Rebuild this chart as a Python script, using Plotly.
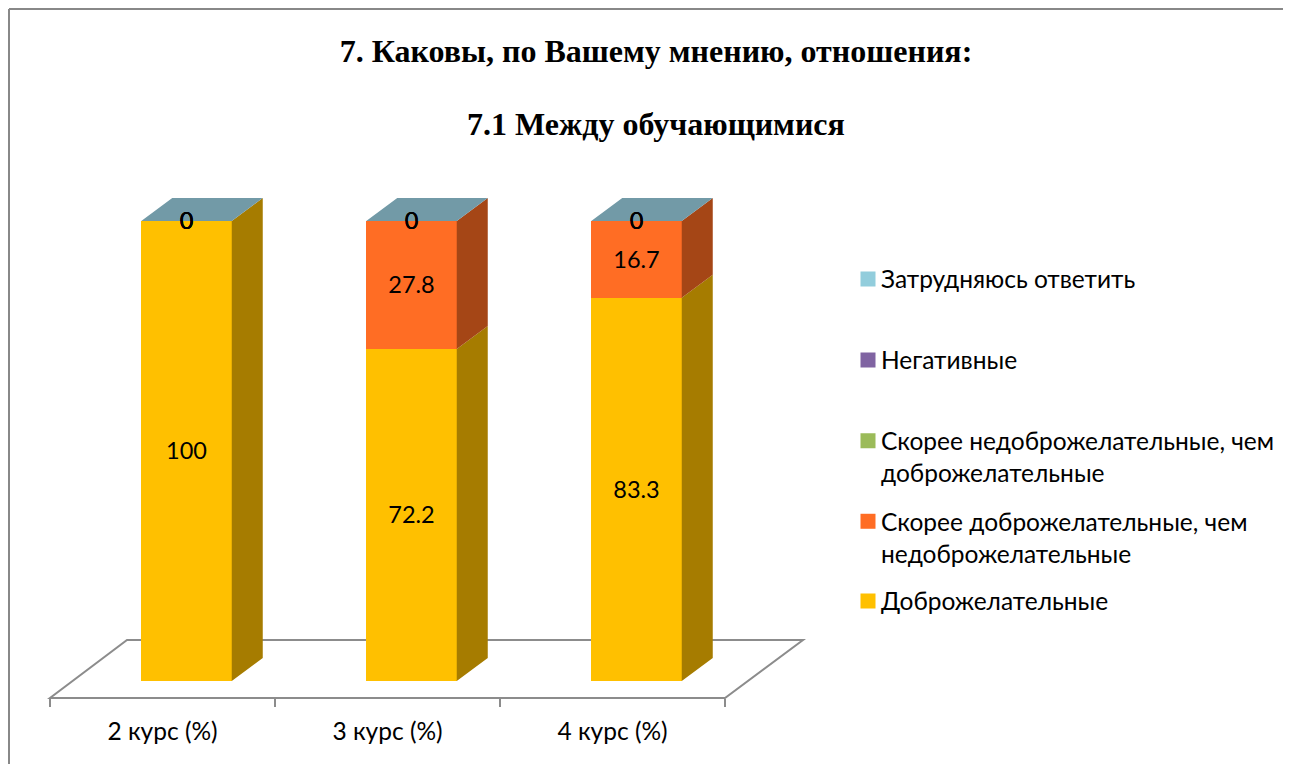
import plotly.graph_objects as go

# ---- data ----
categories = ["2 курс (%)", "3 курс (%)", "4 курс (%)"]
series_names = [
    "Доброжелательные",
    "Скорее доброжелательные, чем<br>недоброжелательные",
    "Скорее недоброжелательные, чем<br>доброжелательные",
    "Негативные",
    "Затрудняюсь ответить",
]
friendly = [100, 72.2, 83.3]
rather_friendly = [0, 27.8, 16.7]
rather_unfriendly = [0, 0, 0]
negative = [0, 0, 0]
hard_to_say = [0, 0, 0]
series_values = [friendly, rather_friendly, rather_unfriendly, negative, hard_to_say]

front_colors = ["#FFC000", "#FF6D24", "#9BBB59", "#8064A2", "#92CDDC"]
side_colors = ["#A67C00", "#A54616", "#657A3A", "#534169", "#5F858F"]
top_color = "#729AA7"
legend_colors = front_colors

# ---- layout constants (page pixels) ----
PAGE_OFFSET = 8
W, H = 1291 - PAGE_OFFSET, 764 - PAGE_OFFSET
PLOT_L, PLOT_R, PLOT_T, PLOT_B = 40, 812, 190, 698
X_UNIT = 225.0      # px per category
X_ZERO = 162.5      # px of first category centre on the axis
Y_UNIT = 4.6        # px per percent
Y_ZERO = 681.0      # px of value 0 at the bar front
BAR_SHIFT = 24 / X_UNIT
BAR_WIDTH = 90.5 / X_UNIT
DEPTH_X = 31 / X_UNIT
DEPTH_Y = 23 / Y_UNIT
LABEL_NUDGE = 2.5 / Y_UNIT
TEXT_FONT = "Lato"


def xd(px):
    return (px - X_ZERO) / X_UNIT


def yd(py):
    return (Y_ZERO - py) / Y_UNIT


def xp(px):
    return (px - PLOT_L) / (PLOT_R - PLOT_L)


def yp(py):
    return (PLOT_B - py) / (PLOT_B - PLOT_T)


fig = go.Figure()

# stacked bar fronts
for name, vals, col in zip(series_names, series_values, front_colors):
    fig.add_trace(go.Bar(
        x=[i + BAR_SHIFT for i in range(len(categories))], y=vals, width=BAR_WIDTH,
        name=name.replace("<br>", " "), marker=dict(color=col, line=dict(width=0)),
        showlegend=False, hoverinfo="y",
    ))

# side faces
bottoms = [0, 0, 0]
for vals, col in zip(series_values, side_colors):
    xs, ys = [], []
    for i, v in enumerate(vals):
        if v > 0:
            r = i + BAR_SHIFT + BAR_WIDTH / 2
            b = bottoms[i]
            xs += [r, r + DEPTH_X, r + DEPTH_X, r, r, None]
            ys += [b, b + DEPTH_Y, b + v + DEPTH_Y, b + v, b, None]
    if xs:
        fig.add_trace(go.Scatter(x=xs, y=ys, mode="lines", fill="toself", fillcolor=col,
                                 line=dict(width=0), showlegend=False, hoverinfo="skip"))
    bottoms = [b + v for b, v in zip(bottoms, vals)]

# top faces
xs, ys = [], []
for i, t in enumerate(bottoms):
    l = i + BAR_SHIFT - BAR_WIDTH / 2
    r = i + BAR_SHIFT + BAR_WIDTH / 2
    xs += [l, r, r + DEPTH_X, l + DEPTH_X, l, None]
    ys += [t, t, t + DEPTH_Y, t + DEPTH_Y, t, None]
fig.add_trace(go.Scatter(x=xs, y=ys, mode="lines", fill="toself", fillcolor=top_color,
                         line=dict(width=0), showlegend=False, hoverinfo="skip"))

# data labels
lx, ly, lt = [], [], []
running = [0, 0, 0]
for vals in series_values:
    for i, v in enumerate(vals):
        lx.append(i + BAR_SHIFT)
        ly.append(running[i] + v / 2 - LABEL_NUDGE)
        lt.append(f"{v:g}")
    running = [a + b for a, b in zip(running, vals)]
fig.add_trace(go.Scatter(x=lx, y=ly, text=lt, mode="text", textposition="middle center",
                         textfont=dict(family=TEXT_FONT, size=23.5, color="#000000"),
                         showlegend=False, hoverinfo="skip"))

# legend entries, each in its own legend so the rows sit where the reference has them
legend_rows = [601, 521.5, 441, 360, 279]
legend_names = [
    "Доброжелательные",
    " <br>Скорее доброжелательные, чем<br>недоброжелательные",
    " <br>Скорее недоброжелательные, чем<br>доброжелательные",
    "Негативные",
    "Затрудняюсь ответить",
]
legends = {}
for k, (nm, col, row) in enumerate(zip(legend_names, legend_colors, legend_rows)):
    key = "legend" if k == 0 else f"legend{k + 1}"
    fig.add_trace(go.Scatter(x=[None], y=[None], mode="markers", name=nm,
                             marker=dict(symbol="square", size=15, color=col,
                                         angle=90, standoff=7),
                             showlegend=True, legend=key))
    legends[key] = dict(
        xref="container", yref="container",
        x=(841 - PAGE_OFFSET) / W, y=1 - (row - PAGE_OFFSET) / H,
        xanchor="left", yanchor="middle", bgcolor="rgba(0,0,0,0)", borderwidth=0,
        font=dict(family=TEXT_FONT, size=24.5, color="#000000"), itemwidth=30,
        itemclick=False, itemdoubleclick=False, tracegroupgap=0,
    )

# floor and chart border
floor = (f"M {xd(50)} {yp(698)} L {xd(725)} {yp(698)} L {xd(803)} {yp(640)} "
         f"L {xd(127)} {yp(640)} Z")
shapes = [
    dict(type="path", path=floor, xref="x", yref="paper", layer="below",
         line=dict(color="#8C8C8C", width=2), fillcolor="rgba(0,0,0,0)"),
    dict(type="line", xref="paper", yref="paper", x0=xp(9), x1=xp(9), y0=yp(9), y1=yp(764),
         line=dict(color="#888888", width=2)),
    dict(type="line", xref="paper", yref="paper", x0=xp(9), x1=xp(1291), y0=yp(9), y1=yp(9),
         line=dict(color="#888888", width=2)),
]

fig.update_layout(
    width=W, height=H,
    margin=dict(l=PLOT_L - PAGE_OFFSET, r=1291 - PLOT_R, t=PLOT_T - PAGE_OFFSET, b=764 - PLOT_B, pad=0),
    paper_bgcolor="#FFFFFF", plot_bgcolor="rgba(0,0,0,0)",
    barmode="stack", bargap=0,
    title=dict(
        text="<b>7. Каковы, по Вашему мнению, отношения:</b>",
        xref="container", yref="container",
        x=(656 - PAGE_OFFSET) / W, y=1 - (51 - PAGE_OFFSET) / H,
        xanchor="center", yanchor="middle",
        font=dict(family="Liberation Serif", size=32, color="#000000"),
    ),
    annotations=[dict(
        text="<b>7.1 Между обучающимися</b>", xref="paper", yref="paper",
        x=xp(656), y=yp(124), xanchor="center", yanchor="middle", showarrow=False,
        font=dict(family="Liberation Serif", size=32, color="#000000"),
    )],
    xaxis=dict(
        type="linear", range=[xd(PLOT_L), xd(PLOT_R)],
        tickmode="array", tickvals=list(range(len(categories))), ticktext=categories,
        ticks="", showline=False, showgrid=False, zeroline=False,
        tickfont=dict(family=TEXT_FONT, size=24.5, color="#000000"), ticklabelstandoff=16,
        minor=dict(tickmode="array", tickvals=[-0.5, 0.5, 1.5, 2.5], ticks="outside",
                   ticklen=8, tickwidth=2, tickcolor="#8C8C8C", showgrid=False),
    ),
    yaxis=dict(visible=False, range=[yd(PLOT_B), yd(PLOT_T)], showgrid=False, zeroline=False),
    shapes=shapes,
    **legends,
)

fig.write_html("out.html")
